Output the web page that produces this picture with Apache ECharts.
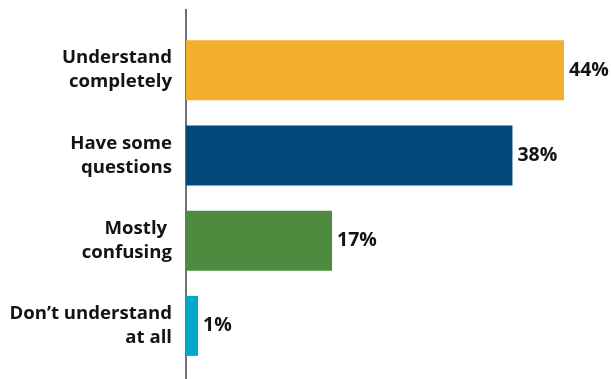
<!DOCTYPE html>
<html><head><meta charset="utf-8">
<script src="https://cdn.jsdelivr.net/npm/echarts@6/dist/echarts.min.js"></script>
<style>html,body{margin:0;padding:0;background:#fff}#c{width:611px;height:379px}</style>
</head><body><div id="c"></div>
<script>
const categories = ["Understand\ncompletely", "Have some\nquestions", "Mostly \nconfusing", "Don’t understand\nat all"];
const values = [44, 38, 17, 1.4];
const valueLabels = ["44%", "38%", "17%", "1%"];
const colors = ["#F5AF2F", "#02497A", "#4E8B3F", "#00AAC7"];

const chart = echarts.init(document.getElementById('c'), null, {renderer: 'canvas'});
const FONT = '"Open Sans", "Noto Sans", sans-serif';
chart.setOption({
  animation: false,
  grid: {left: 186, right: 47, top: 27.5, height: 341},
  xAxis: {type: 'value', min: 0, max: 44, show: false},
  yAxis: {
    type: 'category', data: categories, inverse: true,
    axisLine: {show: false}, axisTick: {show: false},
    axisLabel: {margin: 14, fontFamily: FONT, fontWeight: 'bold', fontSize: 18.6, lineHeight: 24, color: '#141414', align: 'right'}
  },
  series: [{
    type: 'bar', barWidth: 60,
    data: values.map((v, i) => ({value: v, itemStyle: {color: colors[i]}})),
    label: {show: true, position: 'right', distance: 5, fontFamily: FONT, fontWeight: 'bold', fontSize: 19.5, color: '#141414',
      formatter: p => valueLabels[p.dataIndex]}
  }],
  graphic: [{type: 'line', shape: {x1: 186, y1: 9, x2: 186, y2: 379}, style: {stroke: '#3b4350', lineWidth: 1.5}}]
});
</script></body></html>
